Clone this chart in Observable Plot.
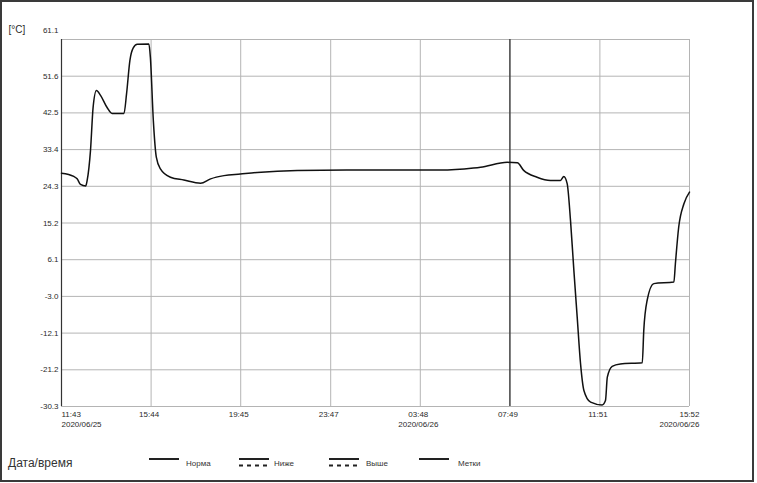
<!DOCTYPE html>
<html>
<head>
<meta charset="utf-8">
<script src="https://cdn.jsdelivr.net/npm/d3@7"></script>
<script src="https://cdn.jsdelivr.net/npm/@observablehq/plot@0.6"></script>
<style>
  html, body { margin: 0; padding: 0; background: #fff; }
  body { font-family: "Liberation Sans", Arial, sans-serif; color: #222; }
  #wrap { position: relative; width: 757px; height: 483px; overflow: hidden; }
  #chart { position: absolute; left: 0; top: 0; }
  #border { position: absolute; left: 0; top: 0; width: 754px; height: 482px; box-sizing: border-box; border: 2px solid #3a3a3a; pointer-events: none; }
  .lg { position: absolute; white-space: nowrap; line-height: 1; font-size: 8px; color: #333; }
  .lg svg { display: block; }
</style>
</head>
<body>
<div id="wrap">
  <div id="chart"></div>
  <div id="legend"></div>
  <div id="border"></div>
</div>
<script>
// ---- data ----
const times = [
  "2020-06-25 11:43", "2020-06-25 12:16", "2020-06-25 12:25", "2020-06-25 12:34",
  "2020-06-25 12:48", "2020-06-25 12:52", "2020-06-25 13:01", "2020-06-25 13:08",
  "2020-06-25 13:17", "2020-06-25 13:28", "2020-06-25 13:46", "2020-06-25 13:59",
  "2020-06-25 14:31", "2020-06-25 14:38", "2020-06-25 14:47", "2020-06-25 14:56",
  "2020-06-25 15:07", "2020-06-25 15:38", "2020-06-25 15:42", "2020-06-25 15:50",
  "2020-06-25 15:58", "2020-06-25 16:09", "2020-06-25 16:36", "2020-06-25 17:12",
  "2020-06-25 17:57", "2020-06-25 18:24", "2020-06-25 19:00", "2020-06-25 19:44",
  "2020-06-25 20:29", "2020-06-25 22:17", "2020-06-26 00:30", "2020-06-26 03:48",
  "2020-06-26 04:42", "2020-06-26 06:11", "2020-06-26 06:30", "2020-06-26 07:42",
  "2020-06-26 08:09", "2020-06-26 08:26", "2020-06-26 09:02", "2020-06-26 09:38",
  "2020-06-26 10:05", "2020-06-26 10:14", "2020-06-26 10:23", "2020-06-26 10:32",
  "2020-06-26 10:41", "2020-06-26 10:50", "2020-06-26 10:59", "2020-06-26 11:08",
  "2020-06-26 11:26", "2020-06-26 11:57", "2020-06-26 12:06", "2020-06-26 12:11",
  "2020-06-26 12:24", "2020-06-26 12:46", "2020-06-26 13:45", "2020-06-26 13:49",
  "2020-06-26 13:58", "2020-06-26 14:16", "2020-06-26 15:10", "2020-06-26 15:14",
  "2020-06-26 15:23", "2020-06-26 15:37", "2020-06-26 15:52"
];
const temps = [
  27.8, 27.0, 26.4, 25.0,
  24.6, 26.0, 33.5, 44.2,
  48.4, 47.2, 44.1, 42.7,
  42.7, 47.6, 55.9, 59.0,
  59.9, 60.0, 56.7, 40.9,
  31.8, 28.9, 26.8, 26.1,
  25.3, 26.4, 27.2, 27.6,
  28.0, 28.5, 28.6, 28.6,
  28.6, 29.1, 29.3, 30.5,
  30.4, 28.5, 26.8, 26.0,
  26.0, 27.0, 25.2, 16.0,
  3.6, -8.1, -19.7, -26.3,
  -29.2, -29.9, -28.8, -23.0,
  -20.3, -19.7, -19.4, -11.4,
  -3.9, 0.3, 0.7, 5.2,
  14.4, 20.2, 23.1
];
const tickTimes = [
  "2020-06-25 11:43", "2020-06-25 15:44", "2020-06-25 19:45", "2020-06-25 23:47",
  "2020-06-26 03:48", "2020-06-26 07:49", "2020-06-26 11:51", "2020-06-26 15:52"
];
const tickTimeLabels = ["11:43", "15:44", "19:45", "23:47", "03:48", "07:49", "11:51", "15:52"];
const tickDateLabels = ["2020/06/25", "", "", "", "2020/06/26", "", "", "2020/06/26"];
const yTickLabels = ["-30.3", "-21.2", "-12.1", "-3.0", "6.1", "15.2", "24.3", "33.4", "42.5", "51.6", "61.1"];
const yMin = -30.3, yMax = 61.1;
const markTimes = ["2020-06-26 07:49"]; // Метки
const yUnit = "[°C]";
const legendTitle = "Дата/время";
const legendItems = ["Норма", "Ниже", "Выше", "Метки"];

// ---- build ----
const parse = d3.timeParse("%Y-%m-%d %H:%M");
const data = times.map((t, i) => ({ t: parse(t), v: temps[i] }));
const ticks = tickTimes.map((t, i) => ({ t: parse(t), time: tickTimeLabels[i], date: tickDateLabels[i] }));
const yTicks = yTickLabels.map((l, i) => ({ v: yMin + i * (yMax - yMin) / (yTickLabels.length - 1), label: l }));
const lab = d => d.date ? d.time + "\n" + d.date : d.time;

const chart = Plot.plot({
  width: 757,
  height: 440,
  marginLeft: 61,
  marginRight: 68,
  marginTop: 39,
  marginBottom: 34,
  x: { type: "time", domain: [ticks[0].t, ticks[ticks.length - 1].t], axis: null },
  y: { domain: [yMin, yMax], axis: null },
  style: { fontFamily: "Liberation Sans, Arial, sans-serif", fontSize: "8px", color: "#2a2a2a", background: "transparent" },
  marks: [
    Plot.ruleY(yTicks, { y: "v", stroke: "#b4b4b4", strokeWidth: 1 }),
    Plot.ruleX(ticks, { x: "t", stroke: "#b4b4b4", strokeWidth: 1 }),
    Plot.ruleX(markTimes.map(parse), { stroke: "#2a2a2a", strokeWidth: 1.2 }),
    Plot.ruleX([ticks[0].t], { stroke: "#333", strokeWidth: 1.2 }),
    Plot.line(data, { x: "t", y: "v", stroke: "#111", strokeWidth: 1.5, curve: "monotone-x" }),
    Plot.text(yTicks.slice(0, -1), { y: "v", text: "label", frameAnchor: "left", textAnchor: "end", dx: -3 }),
    Plot.text(yTicks.slice(-1), { y: "v", text: "label", frameAnchor: "left", textAnchor: "end", dx: -3, dy: -9 }),
    Plot.text(ticks.slice(0, 1), { x: "t", text: lab, frameAnchor: "bottom", textAnchor: "start", lineAnchor: "top", dy: 3, lineHeight: 1.25 }),
    Plot.text(ticks.slice(1, -1), { x: "t", text: lab, frameAnchor: "bottom", textAnchor: "middle", lineAnchor: "top", dx: -2, dy: 3, lineHeight: 1.25 }),
    Plot.text(ticks.slice(-1), { x: "t", text: lab, frameAnchor: "bottom", textAnchor: "end", lineAnchor: "top", dx: 10, dy: 3, lineHeight: 1.25 }),
    Plot.text([yUnit], { frameAnchor: "top-left", textAnchor: "start", lineAnchor: "middle", dx: -53, dy: -10, fontSize: 10 })
  ]
});
document.getElementById("chart").appendChild(chart);

// ---- legend ----
const legend = document.getElementById("legend");
function add(html, left, top, size) {
  const d = document.createElement("div");
  d.className = "lg";
  d.style.left = left + "px";
  d.style.top = top + "px";
  if (size) d.style.fontSize = size + "px";
  d.innerHTML = html;
  legend.appendChild(d);
}
add(legendTitle, 8, 457, 12);
const sampleSolid = '<svg width="30" height="10"><line x1="0" x2="30" y1="2" y2="2" stroke="#222" stroke-width="2"/></svg>';
const sampleDouble = '<svg width="30" height="10"><line x1="0" x2="30" y1="2" y2="2" stroke="#222" stroke-width="2"/><line x1="0" x2="30" y1="8.5" y2="8.5" stroke="#222" stroke-width="2" stroke-dasharray="4 4"/></svg>';
const pos = [[149, 186], [239, 274], [329, 366], [419, 458]];
const samples = [sampleSolid, sampleDouble, sampleDouble, sampleSolid];
legendItems.forEach((name, i) => {
  add(samples[i], pos[i][0], 457);
  add(name, pos[i][1], 460);
});
</script>
</body>
</html>
